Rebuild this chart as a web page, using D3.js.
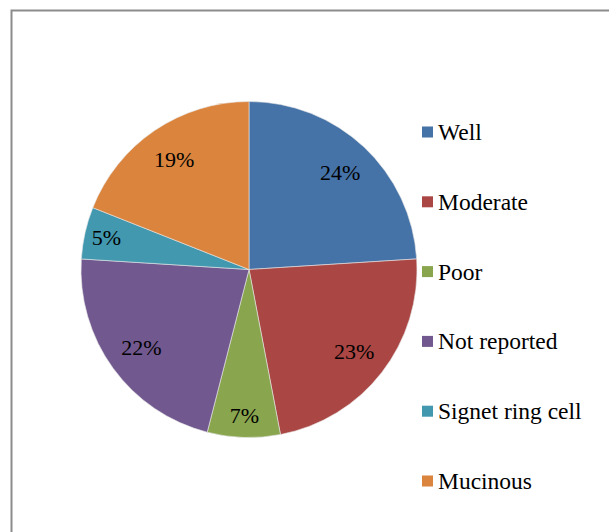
<!DOCTYPE html>
<html>
<head>
<meta charset="utf-8">
<script src="https://cdn.jsdelivr.net/npm/d3@7"></script>
</head>
<body style="margin:0">
<script>
// data
var categories = ['Well', 'Moderate', 'Poor', 'Not reported', 'Signet ring cell', 'Mucinous'];
var percents = [24, 23, 7, 22, 5, 19];
var colors = ['#4572A7', '#AA4643', '#89A54E', '#71588F', '#4198AF', '#DB843D'];

var width = 609, height = 532;
var cx = 249, cy = 269.5, radius = 168;

var svg = d3.select('body').append('svg')
  .attr('width', width)
  .attr('height', height);

// chart frame (runs past right/bottom edge of the picture)
svg.append('rect')
  .attr('x', 11.5).attr('y', 10.5)
  .attr('width', 700).attr('height', 700)
  .attr('fill', 'none')
  .attr('stroke', '#8c8c8c')
  .attr('stroke-width', 2);

var pie = d3.pie().sort(null).value(function(d){ return d; });
var arcs = pie(percents);

var arc = d3.arc().innerRadius(0).outerRadius(radius);

var g = svg.append('g').attr('transform', 'translate(' + cx + ',' + cy + ')');

g.selectAll('path.slice')
  .data(arcs)
  .enter()
  .append('path')
  .attr('class', 'slice')
  .attr('d', arc)
  .attr('fill', function(d, i){ return colors[i]; })
  .attr('stroke', '#e8e8e8')
  .attr('stroke-width', 0.6);

// small slices get their label pushed further out, like excel's best fit
function labelPos(d) {
  var r = d.data < 10 ? 146 : 133;
  return d3.arc().innerRadius(r).outerRadius(r).centroid(d);
}

g.selectAll('text.pct')
  .data(arcs)
  .enter()
  .append('text')
  .attr('class', 'pct')
  .attr('x', function(d){ return labelPos(d)[0]; })
  .attr('y', function(d){ return labelPos(d)[1] + 7.5; })
  .attr('text-anchor', 'middle')
  .style('font-family', '"Liberation Serif"')
  .style('font-size', '22px')
  .text(function(d){ return d.data + '%'; });

// legend
var legendY = d3.scalePoint().domain(categories).range([132, 481]);

svg.selectAll('rect.key')
  .data(categories)
  .enter()
  .append('rect')
  .attr('class', 'key')
  .attr('x', 422)
  .attr('y', function(d){ return legendY(d) - 5.5; })
  .attr('width', 11).attr('height', 11)
  .attr('fill', function(d, i){ return colors[i]; });

svg.selectAll('text.key')
  .data(categories)
  .enter()
  .append('text')
  .attr('class', 'key')
  .attr('x', 438)
  .attr('y', function(d){ return legendY(d) + 8; })
  .style('font-family', '"Liberation Serif"')
  .style('font-size', '23.5px')
  .text(function(d){ return d; });
</script>
</body>
</html>
